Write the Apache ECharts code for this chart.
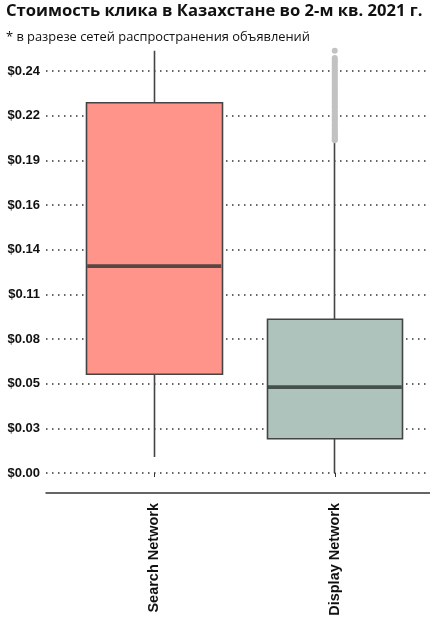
<!DOCTYPE html>
<html><head><meta charset="utf-8">
<script src="https://cdn.jsdelivr.net/npm/echarts@6/dist/echarts.min.js"></script>
<style>html,body{margin:0;padding:0;background:#fff}#c{width:430px;height:624px}</style>
</head><body><div id="c"></div>
<script>
var categories = ['Search Network', 'Display Network'];
var lowWhisker = [0.0096, 0.0];
var q1 = [0.0597, 0.0207];
var median = [0.1250, 0.0519];
var q3 = [0.2237, 0.0929];
var highWhisker = [0.2551, 0.2006];
var boxColors = ['#ff948a', '#aec3bc'];
var displayOutliers = [0.2010, 0.2017, 0.2024, 0.2031, 0.2043, 0.2052, 0.2061, 0.2070, 0.2082, 0.2094,
  0.2103, 0.2115, 0.2128, 0.2136, 0.2149, 0.2157, 0.2170, 0.2182, 0.2191, 0.2205,
  0.2213, 0.2226, 0.2239, 0.2247, 0.2260, 0.2272, 0.2281, 0.2294, 0.2306, 0.2317,
  0.2329, 0.2341, 0.2352, 0.2366, 0.2378, 0.2390, 0.2401, 0.2413, 0.2426, 0.2438,
  0.2449, 0.2462, 0.2474, 0.2487, 0.2499, 0.2508, 0.2551];
var yTickInterval = 0.027;
var yTickMax = 0.243;
var yPlotMax = 0.258;

var chart = echarts.init(document.getElementById('c'), null, {renderer: 'canvas'});
var candleData = categories.map(function (c, i) {
  return {value: [q1[i], q3[i], lowWhisker[i], highWhisker[i]],
    itemStyle: {color: boxColors[i], color0: boxColors[i], borderColor: '#444', borderColor0: '#444'}};
});
var medianData = categories.map(function (c, i) { return [c, median[i]]; });
var outlierData = displayOutliers.map(function (v) { return [categories[1], v]; });

chart.setOption({
  animation: false,
  backgroundColor: '#fff',
  title: [
    {text: 'Стоимость клика в Казахстане во 2-м кв. 2021 г.', left: 6, top: 3, padding: 0,
      textStyle: {fontFamily: 'Open Sans', fontSize: 16.6, fontWeight: 'bold', color: '#111'}},
    {text: '* в разрезе сетей распространения объявлений', left: 6, top: 31, padding: 0,
      textStyle: {fontFamily: 'Open Sans', fontSize: 12.85, fontWeight: 'normal', color: '#111'}}
  ],
  grid: [
    {left: 46, right: 0, top: 71, bottom: 151},
    {left: 64, right: 5, top: 46, bottom: 151}
  ],
  xAxis: [
    {gridIndex: 0, type: 'value', min: 0, max: 1, offset: 20,
      axisLine: {show: true, onZero: false, lineStyle: {color: '#333', width: 1.5}},
      axisTick: {show: false}, axisLabel: {show: false}, splitLine: {show: false}},
    {gridIndex: 1, type: 'category', data: categories, offset: 20,
      axisLine: {show: false},
      axisTick: {show: true, alignWithLabel: true, length: 4, lineStyle: {color: '#333'}},
      axisLabel: {rotate: 90, margin: 10, fontFamily: 'Liberation Sans', fontWeight: 'bold', fontSize: 14.5, color: '#111'}}
  ],
  yAxis: [
    {gridIndex: 0, type: 'value', min: 0, max: yTickMax, interval: yTickInterval,
      axisLine: {show: false}, axisTick: {show: false},
      axisLabel: {margin: 6, fontFamily: 'Liberation Sans', fontWeight: 'bold', fontSize: 13, color: '#111',
        formatter: function (v) { return '$' + v.toFixed(2); }},
      splitLine: {show: true, lineStyle: {color: '#333', width: 1.5, type: [1.5, 4.5]}}},
    {gridIndex: 1, type: 'value', min: 0, max: yPlotMax, show: false,
      splitLine: {show: false}}
  ],
  series: [
    {type: 'candlestick', xAxisIndex: 1, yAxisIndex: 1, barWidth: 136, data: candleData,
      itemStyle: {borderWidth: 1.6}},
    {type: 'scatter', xAxisIndex: 1, yAxisIndex: 1, symbol: 'rect', symbolSize: [134, 3.8],
      itemStyle: {color: '#2b3431'}, data: medianData, z: 3},
    {type: 'scatter', xAxisIndex: 1, yAxisIndex: 1, symbol: 'circle', symbolSize: 6,
      itemStyle: {color: '#c2c2c2', opacity: 1}, data: outlierData, z: 4}
  ]
});
</script></body></html>
